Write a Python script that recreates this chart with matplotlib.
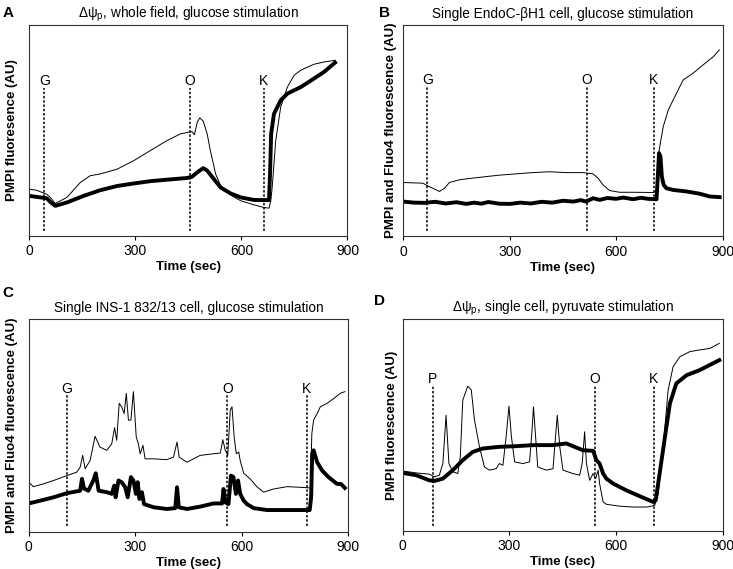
import matplotlib
matplotlib.use("Agg")
import matplotlib.pyplot as plt

plt.rcParams['font.family'] = ['Liberation Sans', 'DejaVu Sans']
plt.rcParams['mathtext.fontset'] = 'custom'
plt.rcParams['mathtext.rm'] = 'Liberation Sans'
plt.rcParams['mathtext.it'] = 'Liberation Sans:italic'
plt.rcParams['mathtext.bf'] = 'Liberation Sans:bold'

# ---------------- Panel A ----------------
A_thin_t = [0, 20, 49, 59, 73, 106, 144, 172, 200, 248, 295, 342, 389, 427, 460, 467, 475, 482,
            492, 503, 512, 527, 541, 569, 598, 635, 664, 678, 683, 687, 697, 711, 730, 749, 768,
            805, 834, 865]
A_thin_y = [22.2, 21.7, 19.8, 18.3, 15.4, 18.3, 25.4, 28.6, 29.4, 31.7, 35.7, 40.5, 45.2, 48.4,
            49.5, 48.0, 54.0, 56.0, 54.4, 48.4, 40.5, 29.4, 23.8, 19.5, 16.7, 14.8, 13.5, 13.2,
            16.7, 23.0, 45.2, 61.1, 70.6, 76.2, 78.6, 81.4, 82.5, 83.3]
A_thick_t = [0, 49, 60, 73, 106, 153, 200, 248, 295, 342, 389, 446, 460, 475, 492, 503, 522,
             541, 569, 598, 635, 678, 681, 684, 692, 711, 730, 768, 805, 834, 865]
A_thick_y = [19.0, 17.9, 16.0, 14.3, 15.9, 19.0, 21.7, 23.7, 24.9, 26.0, 26.7, 27.5, 28.1,
             30.2, 32.2, 31.0, 27.0, 23.0, 20.2, 18.3, 17.1, 17.0, 30.0, 48.4, 57.9, 64.3, 67.5,
             70.6, 74.6, 77.8, 82.2]
A_events = [42, 455, 663]
A_labels = ['G', 'O', 'K']

# ---------------- Panel B ----------------
B_thin_t = [0, 55, 73, 88, 102, 116, 130, 158, 196, 233, 271, 318, 365, 412, 459, 506, 535,
            549, 563, 582, 610, 648, 704, 716, 719, 723, 733, 747, 761, 789, 817, 845, 874, 891]
B_thin_y = [25.5, 25.2, 23.6, 22.4, 21.3, 22.8, 25.5, 26.8, 27.6, 28.3, 29.0, 29.6, 30.2, 30.6,
            30.2, 30.2, 29.6, 27.6, 24.4, 21.7, 20.9, 20.9, 20.8, 21.3, 37.8, 42.5, 52.0, 59.8,
            64.6, 74.0, 77.2, 81.1, 85.0, 88.2]
B_thick_t = [0, 30, 60, 90, 120, 150, 177, 200, 220, 240, 270, 300, 330, 360, 390, 420, 450,
             480, 500, 516, 535, 554, 575, 600, 620, 648, 670, 690, 714, 718, 721, 725, 729, 734,
             742, 761, 798, 836, 864, 892]
B_thick_y = [16.5, 16.0, 15.9, 16.4, 15.6, 16.2, 15.4, 16.0, 15.5, 16.3, 15.5, 15.4, 16.0,
             15.6, 16.4, 16.0, 16.9, 16.5, 17.2, 16.5, 18.1, 17.3, 18.2, 17.8, 18.4, 17.6, 18.3,
             17.8, 17.6, 29.9, 39.4, 37.8, 28.3, 24.4, 22.8, 22.0, 21.3, 20.2, 18.9, 18.6]
B_events = [68, 518, 706]
B_labels = ['G', 'O', 'K']

# ---------------- Panel C ----------------
C_thin_t = [0, 13, 41, 70, 107, 135, 145, 152, 159, 173, 187, 201, 220, 234, 242, 248, 255, 262,
            269, 275, 281, 288, 295, 303, 309, 314, 322, 328, 352, 389, 408, 418, 424, 446, 483,
            521, 540, 547, 554, 561, 568, 573, 579, 585, 592, 596, 606, 624, 643, 662, 690, 728,
            766, 794, 798, 803, 813, 822, 841, 860, 878, 891]
C_thin_y = [23.2, 21.1, 22.4, 24.0, 26.3, 27.9, 30.3, 35.8, 29.5, 33.4, 44.8, 39.7, 38.2, 41.3,
            48.9, 42.9, 60.3, 58.7, 55.5, 65.0, 52.4, 52.4, 65.8, 44.5, 41.3, 36.6, 40.5, 34.2,
            34.2, 33.8, 35.0, 42.1, 35.0, 32.6, 35.8, 36.6, 36.9, 43.2, 38.2, 35.8, 57.1, 58.7,
            44.5, 36.6, 37.4, 33.4, 27.4, 24.8, 21.1, 18.5, 20.0, 21.1, 20.8, 20.5, 46.1, 52.4,
            55.5, 58.7, 60.3, 62.6, 65.0, 65.8]
C_thick_t = [0, 32, 70, 107, 145, 150, 156, 168, 182, 189, 197, 220, 234, 241, 245, 253, 262,
             272, 279, 288, 295, 302, 307, 312, 319, 325, 352, 389, 413, 418, 423, 446, 483, 521,
             545, 549, 555, 563, 570, 577, 584, 590, 596, 606, 615, 634, 671, 719, 766, 792, 796,
             799, 803, 813, 827, 845, 869, 880, 891]
C_thick_y = [13.2, 14.5, 16.1, 18.0, 19.2, 24.8, 20.2, 19.2, 24.0, 27.4, 19.2, 18.5, 17.7, 21.6,
             16.1, 24.0, 23.2, 20.8, 16.1, 25.6, 24.0, 17.7, 23.2, 15.3, 18.5, 12.9, 11.4, 10.6,
             11.0, 20.8, 11.4, 10.6, 11.7, 13.2, 13.2, 20.0, 13.6, 12.9, 26.3, 25.6, 17.7, 24.0,
             17.7, 14.5, 12.9, 11.0, 10.1, 10.1, 10.1, 10.1, 16.1, 36.6, 38.2, 32.6, 28.7, 25.6,
             22.4, 22.4, 20.5]
C_events = [108, 560, 783]
C_labels = ['G', 'O', 'K']

# ---------------- Panel D ----------------
D_thin_t = [0, 38, 75, 89, 103, 113, 122, 130, 141, 155, 162, 169, 183, 193, 202, 216, 230, 244,
            263, 272, 282, 291, 299, 306, 315, 338, 357, 364, 368, 374, 380, 404, 423, 430, 435,
            442, 451, 479, 498, 505, 512, 517, 526, 536, 543, 550, 554, 564, 573, 611, 648, 686,
            709, 719, 733, 747, 761, 780, 808, 836, 864, 891]
D_thin_y = [28.3, 27.4, 26.8, 25.5, 26.3, 31.8, 54.6, 31.8, 27.9, 27.1, 35.0, 61.7, 68.3, 66.5,
            52.3, 39.7, 30.2, 28.7, 29.4, 31.8, 31.0, 44.4, 58.9, 44.4, 32.6, 31.8, 32.6, 47.6,
            58.6, 44.4, 30.2, 28.7, 29.4, 44.4, 54.6, 39.7, 28.7, 27.1, 26.3, 31.8, 46.8, 31.8,
            23.9, 27.1, 24.7, 28.7, 22.4, 13.7, 12.6, 11.7, 11.3, 11.3, 12.0, 17.6, 39.7, 66.5,
            77.5, 82.2, 84.6, 85.4, 86.1, 88.5]
D_thick_t = [0, 38, 75, 89, 113, 141, 169, 197, 225, 272, 319, 366, 423, 460, 507, 536, 545,
             554, 564, 573, 592, 629, 667, 705, 712, 723, 738, 752, 770, 799, 836, 864, 891]
D_thick_y = [27.4, 26.3, 23.9, 23.6, 24.7, 28.7, 33.4, 37.3, 38.9, 39.7, 40.0, 40.5, 40.5, 41.3,
             38.1, 37.8, 33.4, 31.8, 27.1, 24.7, 22.4, 19.2, 16.4, 13.7, 14.5, 27.1, 44.4, 60.2,
             69.6, 73.5, 75.9, 78.3, 80.6]
D_events = [85, 540, 707]
D_labels = ['P', 'O', 'K']

x_ticks = [0, 300, 600, 900]

fig = plt.figure(figsize=(7.33, 5.69), dpi=100)

panels = [
    dict(rect=[0.0402, 0.5852, 0.4338, 0.3708], thin=(A_thin_t, A_thin_y),
         thick=(A_thick_t, A_thick_y), ev=A_events, evl=A_labels,
         title=r'Δψ$_\mathrm{p}$, whole field, glucose stimulation',
         ylabel='PMPI fluoresence (AU)', letter='A', lx=0.003, ly=0.99, ylc=-0.035,
         lab_y=73.3, dtop=70.3),
    dict(rect=[0.5502, 0.5844, 0.4355, 0.3717], thin=(B_thin_t, B_thin_y),
         thick=(B_thick_t, B_thick_y), ev=B_events, evl=B_labels,
         title='Single EndoC-βH1 cell, glucose stimulation',
         ylabel='PMPI and Fluo4 fluorescence (AU)', letter='B', lx=0.517, ly=0.99, ylc=-0.02,
         lab_y=74.0, dtop=70.9),
    dict(rect=[0.0392, 0.0659, 0.4356, 0.3735], thin=(C_thin_t, C_thin_y),
         thick=(C_thick_t, C_thick_y), ev=C_events, evl=C_labels,
         title='Single INS-1 832/13 cell, glucose stimulation',
         ylabel='PMPI and Fluo4 fluorescence (AU)', letter='C', lx=0.003, ly=0.497, ylc=-0.034,
         lab_y=66.9, dtop=64.2),
    dict(rect=[0.5494, 0.0668, 0.4363, 0.3726], thin=(D_thin_t, D_thin_y),
         thick=(D_thick_t, D_thick_y), ev=D_events, evl=D_labels,
         title=r'Δψ$_\mathrm{p}$, single cell, pyruvate stimulation',
         ylabel='PMPI fluorescence (AU)', letter='D', lx=0.51, ly=0.483, ylc=-0.015,
         lab_y=71.7, dtop=68.8),
]

for p in panels:
    ax = fig.add_axes(p['rect'])
    ax.set_xlim(0, 900)
    ax.set_ylim(0, 100)
    for e, lab in zip(p['ev'], p['evl']):
        ax.plot([e, e], [2.5, p['dtop']], color='black', lw=1.1, ls=(0, (1.6, 1.2)))
        ax.text(e, p['lab_y'], lab, ha='center', va='center', fontsize=10)
    ax.plot(*p['thin'], color='black', lw=0.7)
    ax.plot(*p['thick'], color='black', lw=2.8, solid_joinstyle='round')
    ax.set_xticks(x_ticks)
    ax.set_xticklabels([str(v) for v in x_ticks], fontsize=10)
    ax.set_yticks([])
    ax.tick_params(axis='x', direction='out', length=3, width=0.8, pad=3)
    for s in ax.spines.values():
        s.set_linewidth(0.8)
        s.set_color('#333333')
    ax.set_xlabel('Time (sec)', fontsize=9.5, fontweight='bold', labelpad=2)
    ax.set_ylabel(p['ylabel'], fontsize=9.5, fontweight='bold')
    ax.yaxis.set_label_coords(p['ylc'], 0.5)
    ax.set_title(p['title'], fontsize=9.8, pad=5)
    fig.text(p['lx'], p['ly'], p['letter'], fontsize=11, fontweight='bold', va='top', ha='left')

fig.savefig('out.png', dpi=100)
